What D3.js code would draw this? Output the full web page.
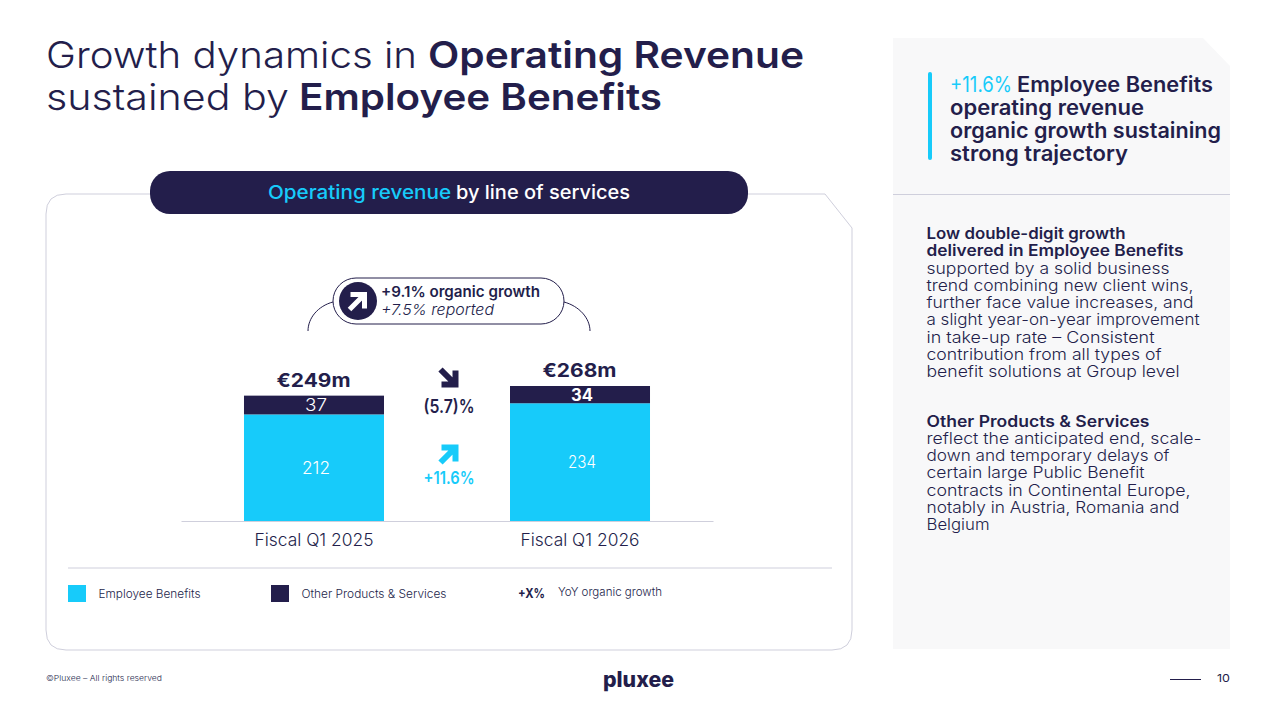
<!DOCTYPE html>
<html>
<head>
<meta charset="utf-8">
<script src="https://cdn.jsdelivr.net/npm/d3@7"></script>
<style>
  html, body { margin: 0; padding: 0; background: #fff; overflow: hidden; }
  text { font-family: Inter, "Noto Sans", sans-serif; }
</style>
</head>
<body>
<svg id="chart" width="1274" height="719"></svg>
<script>
// Data
const periods = ["Fiscal Q1 2025", "Fiscal Q1 2026"];
const employeeBenefits = [212, 234];
const otherProducts = [37, 34];
const totals = ["€249m", "€268m"];
const seriesNames = ["Employee Benefits", "Other Products & Services"];

const navy = "#231e4b";
const cyan = "#17cbfa";
const grey = "#cfcfdc";

const svg = d3.select("#chart");
const baseline = 522;

const x = d3.scaleBand().domain(periods).range([181, 713]).paddingInner(0.4737).paddingOuter(0.2368);
const y = d3.scaleLinear().domain([0, 268]).range([baseline, 386]);

// Small helper: one line of text, squeezed to a measured width when given
function label(parent, px, py, str, size, weight, fill, anchor, width) {
    const t = parent.append("text")
        .attr("x", px).attr("y", py)
        .attr("font-size", size)
        .attr("font-weight", weight)
        .attr("fill", fill)
        .attr("text-anchor", anchor || "start")
        .text(str);
    if (width) t.attr("textLength", width).attr("lengthAdjust", "spacingAndGlyphs");
    return t;
}

// Title
label(svg, 46, 68, "Growth dynamics in", 37, 300, navy, "start", 371);
label(svg, 428, 68, "Operating Revenue", 37, 600, navy, "start", 376);
label(svg, 46, 110, "sustained by", 37, 300, navy, "start", 243);
label(svg, 299, 110, "Employee Benefits", 37, 600, navy, "start", 363);

// Chart frame with the cut corner
svg.append("path")
    .attr("d", "M66,194 H825 L852,228 V630 Q852,650 832,650 H66 Q46,650 46,630 V214 Q46,194 66,194 Z")
    .attr("fill", "#fff").attr("stroke", grey).attr("stroke-width", 1);

// Header pill
svg.append("rect").attr("x", 150).attr("y", 171).attr("width", 598).attr("height", 43).attr("rx", 20).attr("fill", navy);
label(svg, 268, 198.5, "Operating revenue", 19, 500, cyan, "start", 183);
label(svg, 456, 198.5, "by line of services", 19, 500, "#fff", "start", 174);

// Growth bubble
svg.append("path").attr("d", "M333,302 C318,306 308,318 308,331").attr("fill", "none").attr("stroke", navy);
svg.append("path").attr("d", "M564,302 C579,306 590,318 590,331").attr("fill", "none").attr("stroke", navy);
svg.append("rect").attr("x", 333).attr("y", 278).attr("width", 231).attr("height", 46).attr("rx", 23)
    .attr("fill", "#fff").attr("stroke", navy).attr("stroke-width", 1);
svg.append("circle").attr("cx", 358).attr("cy", 301).attr("r", 19).attr("fill", navy);

function arrow(cx, cy, color, down, stroke) {
    const g = svg.append("g").attr("transform", `translate(${cx},${cy})${down ? " scale(1,-1)" : ""}`);
    g.append("path").attr("d", "M-8,8 L6,-6 M-7,-7 H7 V7")
        .attr("fill", "none").attr("stroke", color).attr("stroke-width", stroke);
}
arrow(357.5, 301.5, "#fff", false, 5);
label(svg, 381, 297, "+9.1% organic growth", 15, 600, navy, "start", 159);
label(svg, 381, 315, "+7.5% reported", 15, 300, navy, "start", 113).attr("font-style", "italic");

// Stacked bars
const barWidth = x.bandwidth();
svg.append("g").selectAll("rect").data(periods).join("rect")
    .attr("x", d => x(d))
    .attr("y", (d, i) => y(employeeBenefits[i]))
    .attr("width", barWidth)
    .attr("height", (d, i) => baseline - y(employeeBenefits[i]))
    .attr("fill", cyan);
svg.append("g").selectAll("rect").data(periods).join("rect")
    .attr("x", d => x(d))
    .attr("y", (d, i) => y(employeeBenefits[i] + otherProducts[i]))
    .attr("width", barWidth)
    .attr("height", (d, i) => y(employeeBenefits[i]) - y(employeeBenefits[i] + otherProducts[i]))
    .attr("fill", navy);

// Bar labels
periods.forEach((p, i) => {
    const cx = x(p) + barWidth / 2;
    const labelX = cx + 2;
    label(svg, labelX, y(employeeBenefits[i] / 2) + 5.5, employeeBenefits[i], 17, 300, "#fff", "middle", 28);
    label(svg, labelX, y(employeeBenefits[i] + otherProducts[i] / 2) + 6, otherProducts[i], 17, i ? 700 : 300, "#fff", "middle", 22);
    label(svg, cx - 0.5, y(employeeBenefits[i] + otherProducts[i]) - 9, totals[i], 19, 700, navy, "middle", 74);
});

// Axis
const axis = svg.append("g").attr("transform", `translate(0,${baseline - 1})`)
    .call(d3.axisBottom(x).tickSize(0).tickPadding(13));
axis.select(".domain").attr("stroke", grey);
axis.selectAll("text")
    .attr("font-size", 17).attr("font-weight", 300).attr("fill", navy)
    .attr("font-family", "Inter")
    .attr("textLength", 119).attr("lengthAdjust", "spacingAndGlyphs");

// Change markers between the bars
arrow(448.5, 377.5, navy, true, 6);
label(svg, 449, 413, "(5.7)%", 18, 600, navy, "middle", 51);
arrow(448.5, 454.5, cyan, false, 6);
label(svg, 449, 484, "+11.6%", 17, 600, cyan, "middle", 51);

// Legend
svg.append("line").attr("x1", 68).attr("x2", 832).attr("y1", 568).attr("y2", 568).attr("stroke", grey);
const legendX = [68, 271];
const legendColors = [cyan, navy];
seriesNames.forEach((s, i) => {
    svg.append("rect").attr("x", legendX[i]).attr("y", 585).attr("width", 18).attr("height", 17).attr("fill", legendColors[i]);
    label(svg, legendX[i] + 30.5, 598, s, 11, 300, navy, "start", i ? 145 : 102);
});
label(svg, 518, 598, "+X%", 13, 700, navy, "start", 27);
label(svg, 558, 596, "YoY organic growth", 11, 300, navy, "start", 104);

// Side panel
svg.append("path").attr("d", "M893,38 H1203 L1230,66 V649 H893 Z").attr("fill", "#f8f8f9");
svg.append("line").attr("x1", 893).attr("x2", 1230).attr("y1", 194.5).attr("y2", 194.5).attr("stroke", grey);
svg.append("rect").attr("x", 928).attr("y", 72).attr("width", 4).attr("height", 88).attr("rx", 2).attr("fill", cyan);

label(svg, 950, 92, "+11.6%", 21, 400, cyan, "start", 62);
label(svg, 1017, 92, "Employee Benefits", 21, 600, navy, "start", 196);
label(svg, 950, 115, "operating revenue", 21, 600, navy, "start", 194);
label(svg, 950, 138, "organic growth sustaining", 21, 600, navy, "start", 271);
label(svg, 950, 161, "strong trajectory", 21, 600, navy, "start", 178);

const benefitsBold = [["Low double-digit growth", 199, 239], ["delivered in Employee Benefits", 257, 256]];
const benefitsBody = [
    ["supported by a solid business", 243, 274],
    ["trend combining new client wins,", 267, 291],
    ["further face value increases, and", 267, 308],
    ["a slight year-on-year improvement", 273, 325],
    ["in take-up rate – Consistent", 228, 343],
    ["contribution from all types of", 235, 360],
    ["benefit solutions at Group level", 253, 377]
];
const otherBold = [["Other Products & Services", 223, 427]];
const otherBody = [
    ["reflect the anticipated end, scale-", 275, 444],
    ["down and temporary delays of", 243, 461],
    ["certain large Public Benefit", 218, 478],
    ["contracts in Continental Europe,", 264, 496],
    ["notably in Austria, Romania and", 253, 513],
    ["Belgium", 63, 530]
];
benefitsBold.concat(otherBold).forEach(l => label(svg, 926.5, l[2], l[0], 15.5, 600, navy, "start", l[1]));
benefitsBody.concat(otherBody).forEach(l => label(svg, 926.5, l[2], l[0], 15.5, 300, navy, "start", l[1]));

// Footer
label(svg, 46, 681, "©Pluxee – All rights reserved", 8, 300, navy, "start", 116);
label(svg, 603, 687, "pluxee", 21, 800, navy, "start", 71);
svg.append("line").attr("x1", 1170).attr("x2", 1201).attr("y1", 679.5).attr("y2", 679.5).attr("stroke", navy);
label(svg, 1217, 682, "10", 11, 400, navy, "start", 13);
</script>
</body>
</html>
